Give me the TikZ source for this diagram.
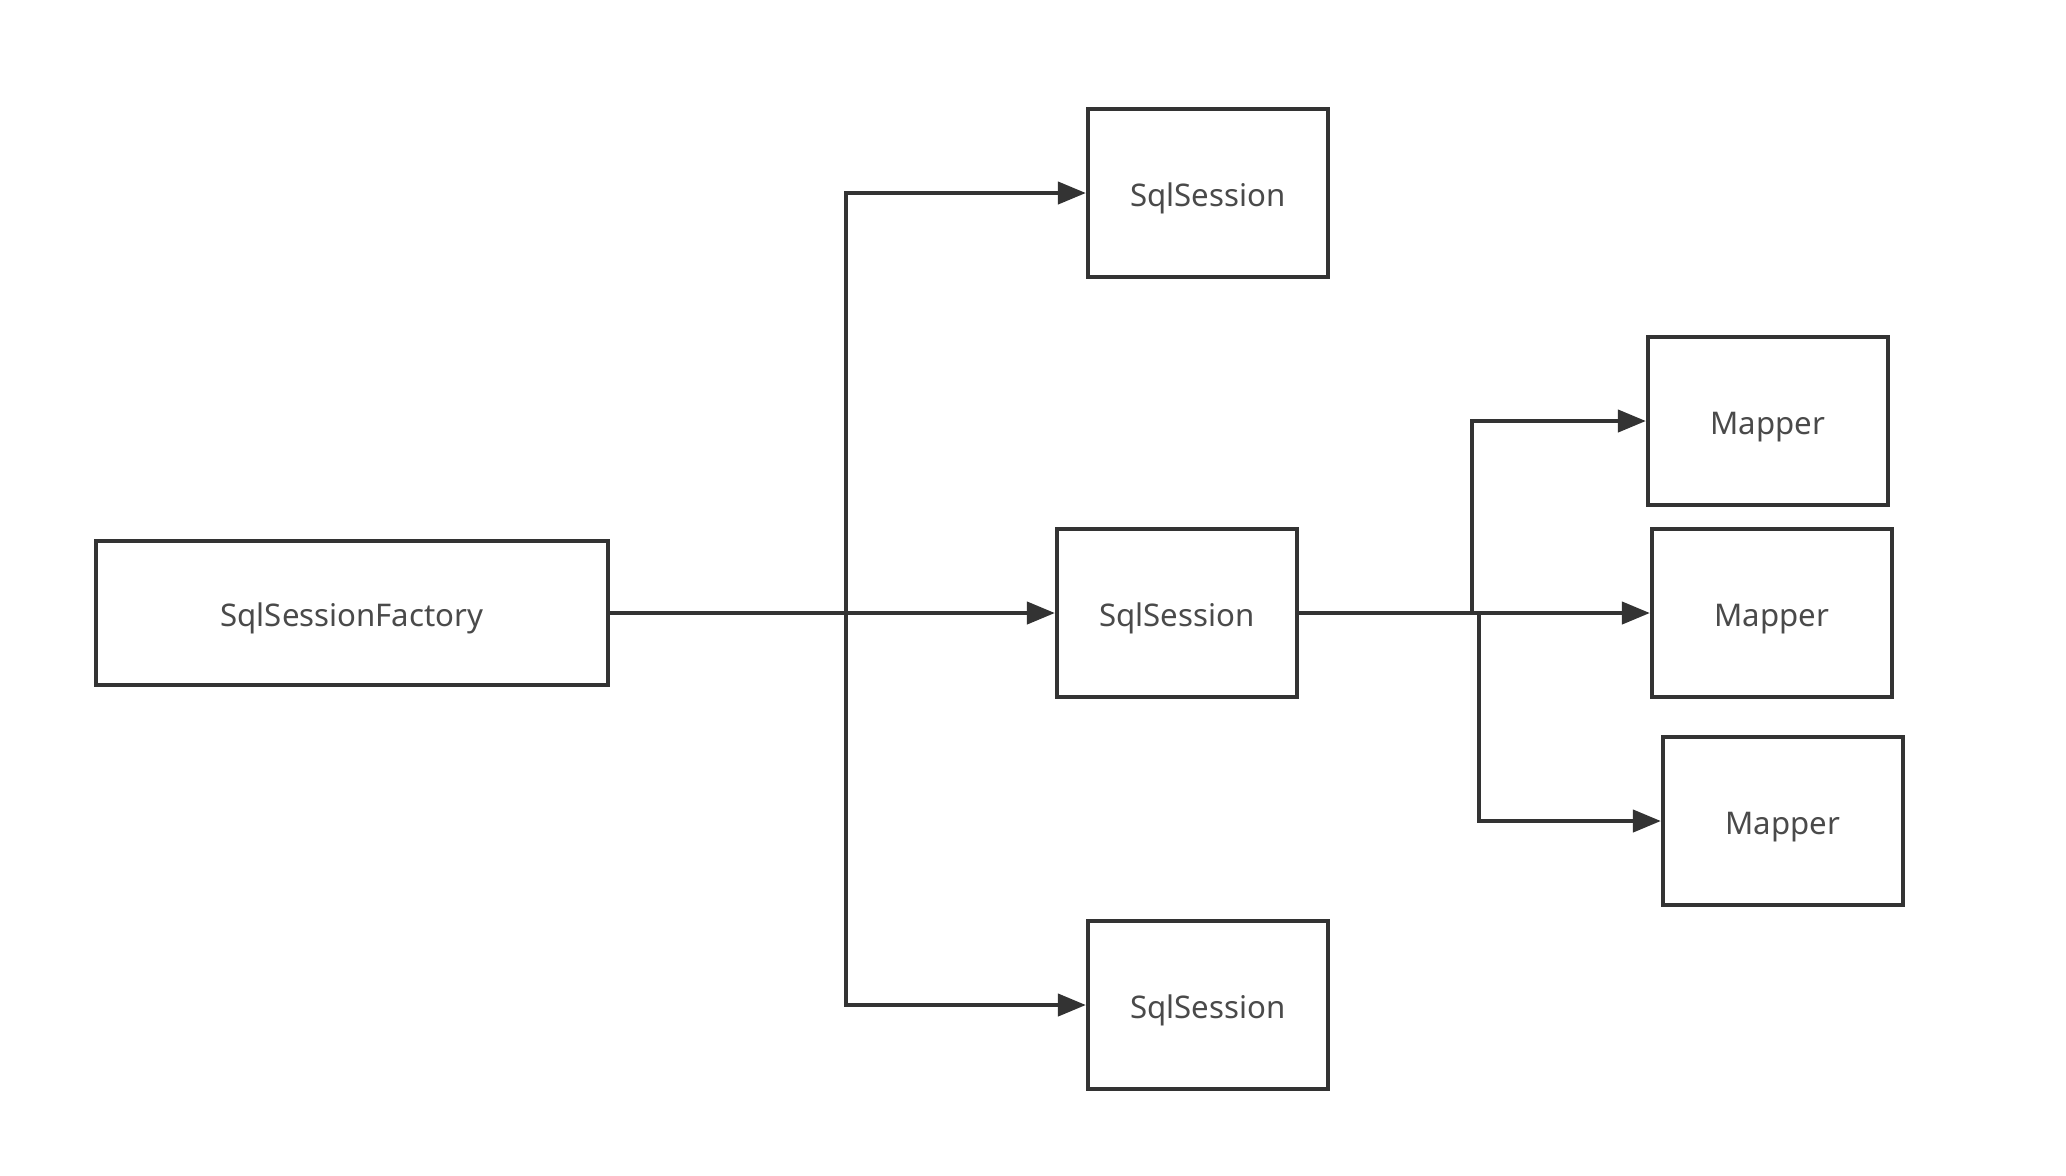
\documentclass[tikz,border=0pt]{standalone}
\usepackage{fontspec}
\setmainfont{Noto Sans}
\usetikzlibrary{arrows.meta}
\definecolor{ln}{HTML}{333333}
\definecolor{tx}{HTML}{4A4A4A}
\begin{document}
\begin{tikzpicture}[x=0.5pt,y=-0.5pt,
  box/.style={draw=ln,line width=2.1pt,fill=white,inner sep=0pt,font=\fontsize{15.6}{17}\selectfont,text=tx,text height=17pt,text depth=4pt},
  conn/.style={draw=ln,line width=2.1pt,-{Triangle[length=14pt,width=11pt]}}]
\useasboundingbox[fill=white] (0,0) rectangle (2066,1175);
\node[box,minimum width=256pt,minimum height=72pt] (fac) at (352,613) {SqlSessionFactory};
\node[box,minimum width=120pt,minimum height=84pt] (ss1) at (1208,193) {SqlSession};
\node[box,minimum width=120pt,minimum height=84pt] (ss2) at (1177,613) {SqlSession};
\node[box,minimum width=120pt,minimum height=84pt] (ss3) at (1208,1005) {SqlSession};
\node[box,minimum width=120pt,minimum height=84pt] (m1) at (1768,421) {Mapper};
\node[box,minimum width=120pt,minimum height=84pt] (m2) at (1772,613) {Mapper};
\node[box,minimum width=120pt,minimum height=84pt] (m3) at (1783,821) {Mapper};
\coordinate (j1) at (846,613);
\coordinate (j2) at (1472,613);
\coordinate (j3) at (1479,613);
\draw[conn] (fac.east) -- (ss2.west);
\draw[conn] (j1) |- (ss1.west);
\draw[conn] (j1) |- (ss3.west);
\draw[conn] (ss2.east) -- (m2.west);
\draw[conn] (j2) |- (m1.west);
\draw[conn] (j3) |- (m3.west);
\end{tikzpicture}
\end{document}
